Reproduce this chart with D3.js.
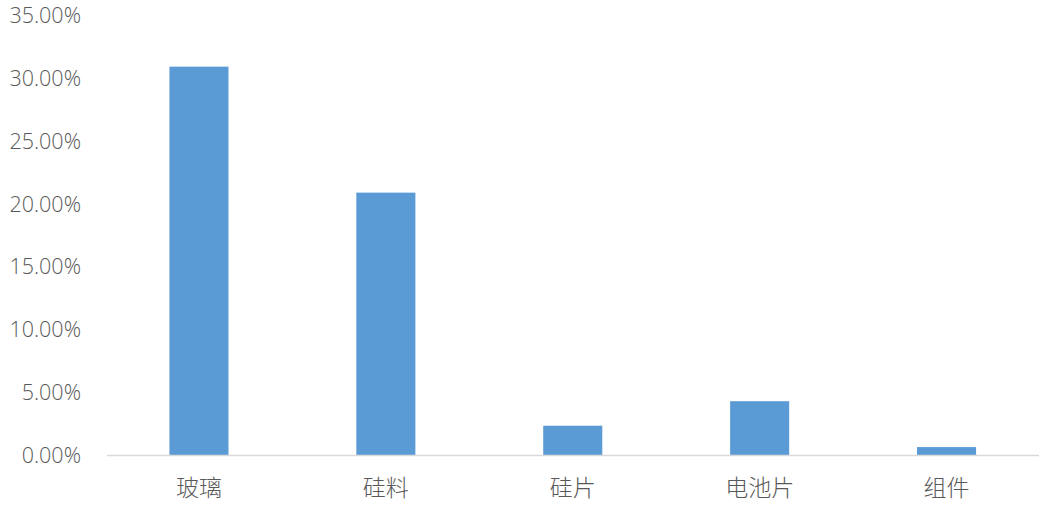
<!DOCTYPE html>
<html><head><meta charset="utf-8">
<script src="https://cdn.jsdelivr.net/npm/d3@7"></script>
<style>body{margin:0;background:#fff}</style>
</head><body>
<svg id="c" width="1048" height="514"></svg>
<script>
const categories = ["玻璃","硅料","硅片","电池片","组件"];
const values = [0.3089, 0.2087, 0.0233, 0.0428, 0.0063];
const yTicks = [0,0.05,0.10,0.15,0.20,0.25,0.30,0.35];

const svg = d3.select("#c");
const x = d3.scaleBand().domain(categories).range([105.5,1040]).paddingInner(0.684).paddingOuter(0.342);
const y = d3.scaleLinear().domain([0,0.35]).range([455,15]);

// y tick labels
svg.append("g").attr("transform","translate(81,0)")
  .call(d3.axisLeft(y).tickValues(yTicks).tickSize(0).tickPadding(0).tickFormat(d3.format(".2%")))
  .call(g=>g.select(".domain").remove())
  .selectAll("text").attr("font-family","'Open Sans', 'Noto Sans', sans-serif").attr("font-size","21.5px").attr("font-weight","300").attr("fill","#595959").attr("dy","0.35em");

// bars
svg.append("g").selectAll("rect").data(values).join("rect")
  .attr("x",(d,i)=>x(categories[i]))
  .attr("width",x.bandwidth())
  .attr("y",d=>y(d))
  .attr("height",d=>y(0)-y(d))
  .attr("fill","#5b9bd5");

// x axis
svg.append("line").attr("x1",107).attr("x2",1039).attr("y1",y(0)+0.5).attr("y2",y(0)+0.5)
  .attr("stroke","#d9d9d9").attr("stroke-width",1.5);
svg.append("g").attr("transform",`translate(0,${y(0)})`)
  .call(d3.axisBottom(x).tickSize(0).tickPadding(0))
  .call(g=>g.select(".domain").remove())
  .selectAll("text").attr("font-family","'Noto Sans CJK SC', sans-serif").attr("font-size","23px").attr("font-weight","300").attr("fill","#595959").attr("dy","1.8em");
</script>
</body></html>
